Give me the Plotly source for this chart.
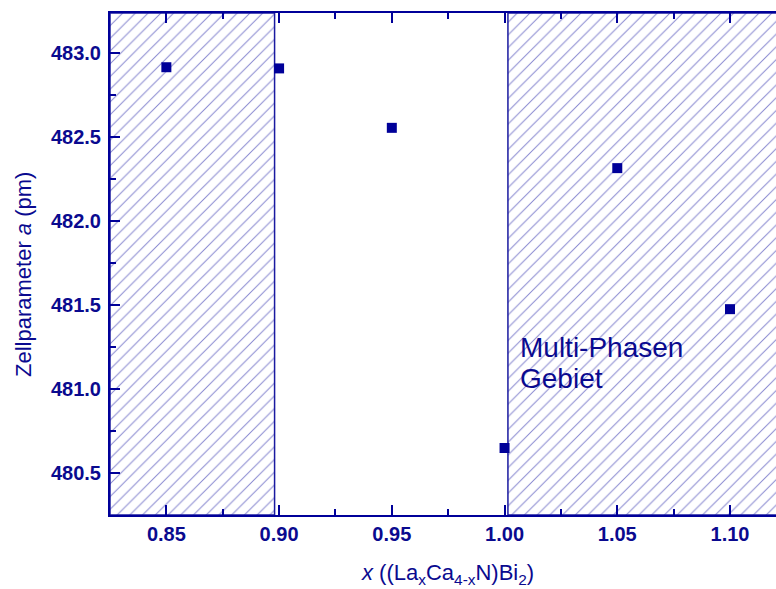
import plotly.graph_objects as go

# Lattice parameter a of (La_x Ca_(4-x) N) Bi_2 versus La content x
x_vals = [0.85, 0.90, 0.95, 1.00, 1.05, 1.10]
a_vals = [482.917, 482.91, 482.556, 480.649, 482.316, 481.476]

# Multi-phase composition ranges (hatched)
multi_phase_left = [0.825, 0.898]
multi_phase_right = [1.0015, 1.13]

x_range = [0.825, 1.1204]
y_range = [480.25, 483.24]
y_ticks = [480.5, 481.0, 481.5, 482.0, 482.5, 483.0]
x_ticks = [0.85, 0.90, 0.95, 1.00, 1.05, 1.10]

BLUE = "#000099"
TEXT = "#0a0a8f"
FONT = "Liberation Sans, Arial, sans-serif"

fig = go.Figure()

for lo, hi in (multi_phase_left, multi_phase_right):
    fig.add_trace(go.Scatter(
        x=[lo, hi, hi, lo, lo],
        y=[y_range[0], y_range[0], y_range[1], y_range[1], y_range[0]],
        mode="lines",
        fill="toself",
        fillcolor="white",
        fillpattern=dict(shape="/", size=9, solidity=0.11,
                         fgcolor="#1010a0", bgcolor="white"),
        line=dict(color="#1a1aa0", width=1.5),
        hoverinfo="skip",
        showlegend=False,
    ))

fig.add_trace(go.Scatter(
    x=x_vals, y=a_vals,
    mode="markers",
    marker=dict(symbol="square", size=10, color=BLUE, line=dict(width=0)),
    showlegend=False,
))

axis_common = dict(
    showgrid=False, zeroline=False,
    showline=True, linecolor=BLUE, linewidth=2,
    ticks="inside", ticklen=10, tickwidth=2, tickcolor=BLUE,
    tickfont=dict(family=FONT, size=20, color=TEXT, weight="bold"),
)

fig.update_xaxes(
    range=x_range, tickvals=x_ticks, ticktext=[f"{v:.2f}" for v in x_ticks],
    mirror="ticks",
    minor=dict(dtick=0.025, tick0=0.825, ticks="inside", ticklen=6,
               tickwidth=2, tickcolor=BLUE),
    **axis_common,
)
fig.update_yaxes(
    range=y_range, tickvals=y_ticks, ticktext=[f"{v:.1f}" for v in y_ticks],
    mirror=False, ticklabelstandoff=3,
    minor=dict(dtick=0.25, tick0=480.25, ticks="inside", ticklen=6,
               tickwidth=2, tickcolor=BLUE),
    **axis_common,
)

fig.add_annotation(
    text="<i>x</i> ((La<sub>x</sub>Ca<sub>4-x</sub>N)Bi<sub>2</sub>)",
    xref="paper", yref="paper", x=0.5075, y=0, xanchor="center", yanchor="top",
    yshift=-43, showarrow=False,
    font=dict(family=FONT, size=22, color=TEXT),
)
fig.add_annotation(
    text="Zellparameter <i>a</i> (pm)",
    xref="paper", yref="paper", x=0, y=0.5, xanchor="center", yanchor="middle",
    xshift=-87, yshift=-11, textangle=-90, showarrow=False,
    font=dict(family=FONT, size=22, color=TEXT),
)
for line_text, y_mid in (("Multi-Phasen", 481.25), ("Gebiet", 481.065)):
    fig.add_annotation(
        text=line_text,
        xref="x", yref="y", x=1.006, y=y_mid, xanchor="left", yanchor="middle",
        align="left", showarrow=False,
        font=dict(family=FONT, size=28, color=TEXT),
    )

fig.update_layout(
    width=776, height=589,
    margin=dict(l=110, r=0, t=13, b=74),
    paper_bgcolor="white", plot_bgcolor="white",
)

fig.write_html("out.html")
